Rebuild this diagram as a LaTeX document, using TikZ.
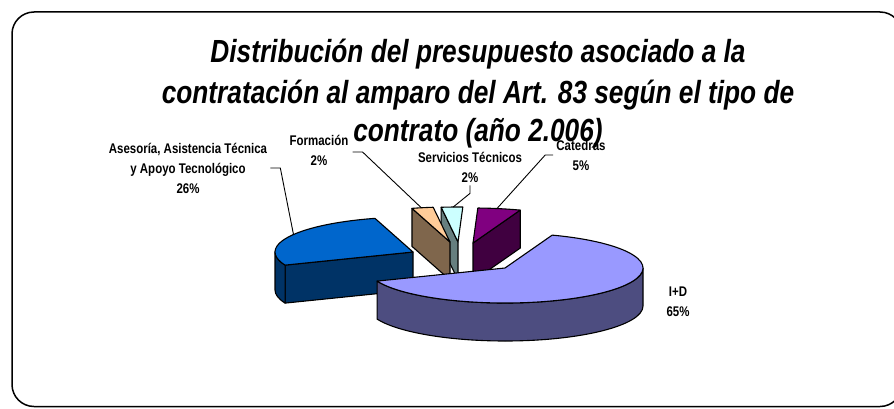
\documentclass[tikz,border=0pt]{standalone}
\usepackage{fontspec}
\setmainfont{Liberation Sans}
\newfontfamily\narrowsans[FakeStretch=0.82]{Liberation Sans}

\definecolor{idtop}{HTML}{9999FF}
\definecolor{idside}{HTML}{4D4D80}
\definecolor{astop}{HTML}{0066CC}
\definecolor{asside}{HTML}{003366}
\definecolor{fotop}{HTML}{FFCC99}
\definecolor{foside}{HTML}{7F664C}
\definecolor{setop}{HTML}{CCFFFF}
\definecolor{seside}{HTML}{667F7F}
\definecolor{catop}{HTML}{800080}
\definecolor{caside}{HTML}{400040}

\tikzset{
    edge/.style={draw=black, line width=1.1pt, line join=round},
    leader/.style={draw=black, line width=0.9pt},
    lbl/.style={font=\narrowsans\bfseries\fontsize{14}{20}\selectfont, align=center, inner sep=0pt},
    ttl/.style={font=\narrowsans\bfseries\itshape\fontsize{32}{40}\selectfont, inner sep=0pt, anchor=base},
    pie/.style={x radius=138, y radius=35},
}

\def\dep{38}

\begin{document}
\begin{tikzpicture}[x=1pt,y=1pt]
    \useasboundingbox (0,0) rectangle (894,408);
    \draw[line width=1.5pt, rounded corners=22pt] (12,1.5) rectangle (902,396);

    % slice centres (exploded)
    \coordinate (IDc) at (505,140);
    \coordinate (ASc) at (413,156);
    \coordinate (FOc) at (450,166);
    \coordinate (SEc) at (458,166);
    \coordinate (CAc) at (473,165);

    % Catedras
    \filldraw[edge, fill=caside] (CAc) -- ++(70:138 and 35) -- ++(0,-\dep) -- ++(250:138 and 35) -- cycle;
    \filldraw[edge, fill=catop] (CAc) -- ++(70:138 and 35) arc[pie, start angle=70, end angle=88] -- cycle;

    % Servicios Tecnicos
    \filldraw[edge, fill=seside] (SEc) -- ++(97:138 and 35) -- ++(0,-\dep) -- ++(-83:138 and 35) -- cycle;
    \filldraw[edge, fill=setop] (SEc) -- ++(88:138 and 35) arc[pie, start angle=88, end angle=97] -- cycle;

    % Formacion
    \filldraw[edge, fill=foside] (FOc) -- ++(106:138 and 35) -- ++(0,-\dep) -- ++(-74:138 and 35) -- cycle;
    \filldraw[edge, fill=fotop] (FOc) -- ++(97:138 and 35) arc[pie, start angle=97, end angle=106] -- cycle;

    % Asesoria
    \filldraw[edge, fill=asside] (ASc) -- ++(202:138 and 35) -- ++(0,-\dep) -- ++(22:138 and 35) -- cycle;
    \filldraw[edge, fill=asside] (ASc) ++(180:138 and 35) arc[pie, start angle=180, end angle=202]
        -- ++(0,-\dep) arc[pie, start angle=202, end angle=180] -- cycle;
    \filldraw[edge, fill=astop] (ASc) -- ++(106:138 and 35) arc[pie, start angle=106, end angle=202] -- cycle;

    % I+D
    \filldraw[edge, fill=idside] (IDc) ++(-158:138 and 35) arc[pie, start angle=-158, end angle=0]
        -- ++(0,-\dep) arc[pie, start angle=0, end angle=-158] -- cycle;
    \filldraw[edge, fill=idtop] (IDc) -- ++(-158:138 and 35) arc[pie, start angle=-158, end angle=70] -- cycle;

    % title
    \node[ttl] (titleA) at (478,345) {Distribución del presupuesto asociado a la};
    \node[ttl] (titleB) at (478,305) {contratación al amparo del Art. 83 según el tipo de};
    \node[ttl] (titleC) at (478,267) {contrato (año 2.006)};

    % labels
    \node[lbl] (asLabel) at (188,240) {Asesoría, Asistencia Técnica\\y Apoyo Tecnológico\\26\%};
    \node[lbl] (foLabel) at (319,258) {Formación\\2\%};
    \node[lbl] (seLabel) at (470,241) {Servicios Técnicos\\2\%};
    \node[lbl] (caLabel) at (581,253) {Catedras\\5\%};
    \node[lbl] (idLabel) at (678,106) {I+D\\65\%};

    % leader ends
    \path (ASc) ++(150:138 and 35) coordinate (asTip);
    \path (FOc) ++(102:138 and 35) coordinate (foTip);
    \path (SEc) ++(92:138 and 35) coordinate (seTip);
    \path (CAc) ++(80:138 and 35) coordinate (caTip);

    \draw[leader] ([xshift=3pt]asLabel.east) -- ++(10,0) -- (asTip);
    \draw[leader] ([xshift=4pt,yshift=-2pt]foLabel.east) -- ++(10,0) -- (foTip);
    \draw[leader] ([yshift=-3pt]seLabel.south) -- ++(0,-8) -- (seTip);
    \draw[leader] ([xshift=-3pt]caLabel.west) -- ++(-8,0) -- (caTip);
\end{tikzpicture}
\end{document}
